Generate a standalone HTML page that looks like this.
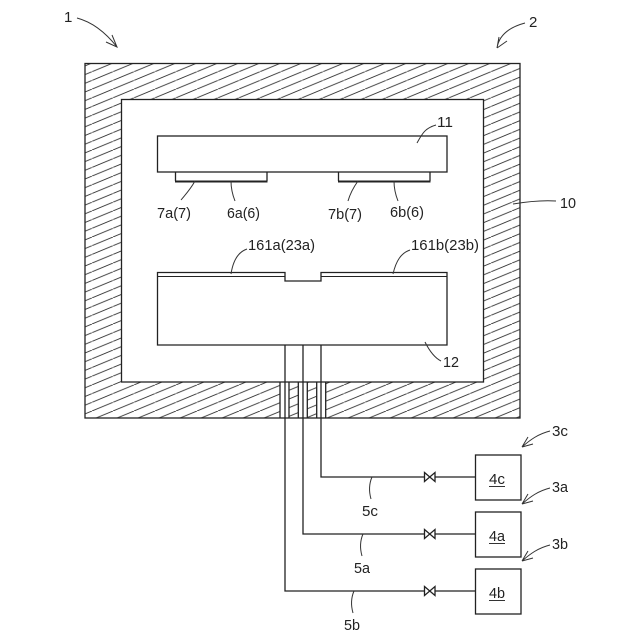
<!DOCTYPE html>
<html><head><meta charset="utf-8"><style>
html,body{margin:0;padding:0;background:#fff;width:640px;height:640px;overflow:hidden}
svg{display:block}
text{font-family:"Liberation Sans",sans-serif;font-size:15px;fill:#222}
</style></head><body>
<svg width="640" height="640" viewBox="0 0 640 640" xmlns="http://www.w3.org/2000/svg">
<defs>
<pattern id="h" patternUnits="userSpaceOnUse" x="113" y="63" width="21" height="8.7">
<path d="M-21 8.700 L0 0 M0 8.700 L21 0 M21 8.700 L42 0" stroke="#333" stroke-width="0.9" fill="none"/>
</pattern>
</defs>
<path fill="url(#h)" fill-rule="evenodd" d="M85 63.500H520V418H85Z M121.500 99.500V382H483.500V99.500Z"/>
<rect x="280" y="382" width="9" height="36" fill="#fff"/>
<rect x="298.300" y="382" width="9" height="36" fill="#fff"/>
<rect x="316.700" y="382" width="9" height="36" fill="#fff"/>
<g fill="none" stroke="#222" stroke-width="1.3">
<rect x="85" y="63.500" width="435" height="354.500"/>
<rect x="121.500" y="99.500" width="362" height="282.500"/>
<path d="M280 382V418M289 382V418M298.300 382V418M307.300 382V418M316.700 382V418M325.700 382V418"/>
<rect x="157.500" y="136" width="289.500" height="36"/>
<path d="M175.500 172V181M267 172V181M338.500 172V181M430 172V181"/>
<path d="M175 181.500H267.500M338 181.500H430.500" stroke-width="2"/>
<path d="M157.500 272.500H285V281H321V272.500H447V345H157.500Z"/>
<path d="M157.500 276.500H285M321 276.500H447" stroke-width="1"/>
<path d="M285 345V591H424M303 345V534H424M321 345V477H424"/>
<path d="M435 477H475M435 534H475M435 591H475"/>
<path d="M424.500 472.500L435 481.500V472.500L424.500 481.500Z"/>
<path d="M424.500 529.500L435 538.500V529.500L424.500 538.500Z"/>
<path d="M424.500 586.500L435 595.500V586.500L424.500 595.500Z"/>
<rect x="475.500" y="455" width="45.500" height="45"/>
<rect x="475.500" y="512" width="45.500" height="45"/>
<rect x="475.500" y="569" width="45.500" height="45"/>
</g>
<g fill="none" stroke="#333" stroke-width="1">
<path d="M77 18C92 22 106 33 117 47M106 42L117 47L112 35"/>
<path d="M525 23C510 27 499 35 497 48M497 48L507 41M497 48L499 37"/>
<path d="M556 201C540 200 525 202 513 204"/>
<path d="M436 125C425 128 422 134 417 143"/>
<path d="M195 181C190 190 185 195 181 200"/>
<path d="M231 181C231 190 233 196 235 201"/>
<path d="M358 181C353 188 350 194 348 201"/>
<path d="M394 181C394 190 396 196 398 201"/>
<path d="M247 249C238 252 233 261 231 274"/>
<path d="M410 250C401 253 396 261 393 274"/>
<path d="M425 342C430 352 435 358 441 361"/>
<path d="M550 431C538 434 530 440 522 447M522 447L533 444M522 447L528 437"/>
<path d="M550 488C538 491 530 497 522 504M522 504L533 501M522 504L528 494"/>
<path d="M550 545C538 548 530 554 522 561M522 561L533 558M522 561L528 551"/>
<path d="M372 477C369 484 369 492 371 499"/>
<path d="M363 534C360 541 360 549 362 556"/>
<path d="M354 591C351 598 351 606 353 613"/>
</g>
<g stroke="#333" stroke-width="1">
<path d="M489 486.500H505M489 543.500H505M489 600.500H505"/>
</g>
<text x="64" y="22">1</text>
<text x="529" y="27">2</text>
<text x="560" y="208" textLength="16" lengthAdjust="spacingAndGlyphs">10</text>
<text x="437" y="127" textLength="16" lengthAdjust="spacingAndGlyphs">11</text>
<text x="443" y="367" textLength="16" lengthAdjust="spacingAndGlyphs">12</text>
<text x="157" y="218" textLength="34" lengthAdjust="spacingAndGlyphs">7a(7)</text>
<text x="227" y="218" textLength="33" lengthAdjust="spacingAndGlyphs">6a(6)</text>
<text x="328" y="219" textLength="34" lengthAdjust="spacingAndGlyphs">7b(7)</text>
<text x="390" y="217" textLength="34" lengthAdjust="spacingAndGlyphs">6b(6)</text>
<text x="248" y="250" textLength="67" lengthAdjust="spacingAndGlyphs">161a(23a)</text>
<text x="411" y="250" textLength="68" lengthAdjust="spacingAndGlyphs">161b(23b)</text>
<text x="552" y="436" textLength="16" lengthAdjust="spacingAndGlyphs">3c</text>
<text x="552" y="492" textLength="16" lengthAdjust="spacingAndGlyphs">3a</text>
<text x="552" y="549" textLength="16" lengthAdjust="spacingAndGlyphs">3b</text>
<text x="489" y="484" textLength="16" lengthAdjust="spacingAndGlyphs">4c</text>
<text x="489" y="541" textLength="16" lengthAdjust="spacingAndGlyphs">4a</text>
<text x="489" y="598" textLength="16" lengthAdjust="spacingAndGlyphs">4b</text>
<text x="362" y="516" textLength="16" lengthAdjust="spacingAndGlyphs">5c</text>
<text x="354" y="573" textLength="16" lengthAdjust="spacingAndGlyphs">5a</text>
<text x="344" y="630" textLength="16" lengthAdjust="spacingAndGlyphs">5b</text>
</svg>
</body></html>
